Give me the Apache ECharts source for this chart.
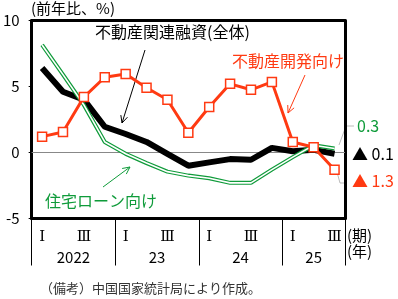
<!DOCTYPE html>
<html><head><meta charset="utf-8">
<script src="https://cdn.jsdelivr.net/npm/echarts@6/dist/echarts.min.js"></script>
<style>html,body{margin:0;padding:0;background:#fff}#c{width:398px;height:299px}</style>
</head><body><div id="c"></div>
<script>
const categories = ['2022Q1','2022Q2','2022Q3','2022Q4','2023Q1','2023Q2','2023Q3','2023Q4','2024Q1','2024Q2','2024Q3','2024Q4','2025Q1','2025Q2','2025Q3'];
const quarterLabels = ['Ⅰ','','Ⅲ','','Ⅰ','','Ⅲ','','Ⅰ','','Ⅲ','','Ⅰ','','Ⅲ'];
const yearLabels = ['2022','23','24','25'];
const yearCenters = [2, 6, 10, 13.5];
const totalLoans = [6.4, 4.6, 4.0, 1.95, 1.4, 0.8, -0.1, -1.0, -0.75, -0.5, -0.55, 0.35, 0.1, 0.2, -0.1];
const developmentLoans = [1.2, 1.55, 4.2, 5.7, 5.95, 4.9, 4.0, 1.5, 3.45, 5.2, 4.75, 5.35, 0.8, 0.4, -1.3];
const mortgageLoans = [8.15, 5.9, 3.6, 0.8, -0.1, -0.8, -1.45, -1.75, -1.95, -2.3, -2.3, -1.3, -0.35, 0.55, 0.3];
const yTicks = [-5, 0, 5, 10];

const FONT = '"Noto Sans CJK JP", "Noto Sans", sans-serif';
const SERIF = '"DejaVu Serif", "Liberation Serif", serif';
const RED = '#ff3a12';
const GREEN = '#0f9b3a';

function arrow(x1, y1, x2, y2, color) {
  const a = Math.atan2(y2 - y1, x2 - x1);
  const L = 8, W = 0.45;
  return {
    type: 'group', silent: true, z: 50,
    children: [
      { type: 'line', shape: { x1, y1, x2, y2 }, style: { stroke: color, lineWidth: 1 } },
      { type: 'polyline', shape: { points: [
          [x2 - L * Math.cos(a - W), y2 - L * Math.sin(a - W)], [x2, y2],
          [x2 - L * Math.cos(a + W), y2 - L * Math.sin(a + W)]] },
        style: { stroke: color, lineWidth: 1, fill: null } }
    ]
  };
}

const frameLine = { show: true, onZero: false, lineStyle: { color: '#000', width: 3 } };

const chart = echarts.init(document.getElementById('c'), null, { renderer: 'canvas' });
chart.setOption({
  animation: false,
  textStyle: { fontFamily: FONT },
  grid: { left: 29.5, top: 20.5, width: 315.5, height: 198, show: false, containLabel: false },
  xAxis: [{
    type: 'category', data: categories, boundaryGap: true, position: 'bottom',
    axisLine: frameLine,
    axisTick: { show: true, length: 47, lineStyle: { color: '#000', width: 1 },
      interval: function (i) { return i % 4 === 0; } },
    axisLabel: { show: true, interval: 0, margin: 11, fontSize: 15, color: '#000', fontFamily: SERIF,
      formatter: function (v, i) { return quarterLabels[i]; } }
  }, {
    type: 'value', min: 0, max: 15, interval: 0.5, position: 'bottom',
    axisLine: { show: false, onZero: false }, axisTick: { show: false }, splitLine: { show: false },
    axisLabel: { show: true, margin: 31, fontSize: 15, color: '#000', fontFamily: FONT, showMinLabel: true, showMaxLabel: true,
      formatter: function (v) { const k = yearCenters.indexOf(v); return k >= 0 ? yearLabels[k] : ''; } }
  }, {
    type: 'category', data: categories, position: 'top',
    axisLine: frameLine, axisTick: { show: false }, axisLabel: { show: false }, splitLine: { show: false }
  }],
  yAxis: [{
    type: 'value', min: yTicks[0], max: yTicks[yTicks.length - 1], interval: 5, position: 'left',
    axisLine: frameLine,
    axisTick: { show: true, length: 3, lineStyle: { color: '#000' } },
    splitLine: { show: false },
    axisLabel: { margin: 12, fontSize: 15, color: '#000', fontFamily: FONT }
  }, {
    type: 'value', min: yTicks[0], max: yTicks[yTicks.length - 1], interval: 5, position: 'right',
    axisLine: frameLine, axisTick: { show: false }, axisLabel: { show: false }, splitLine: { show: false }
  }],
  series: [{
    name: '不動産関連融資(全体)', type: 'line', data: totalLoans, symbol: 'none', z: 3,
    lineStyle: { color: '#000', width: 6 },
    markLine: { silent: true, symbol: 'none', label: { show: false }, data: [{ yAxis: 0 }],
      lineStyle: { color: '#888', width: 1.2, type: 'solid' }, z: 1 }
  }, {
    name: '住宅ローン向け', type: 'line', data: mortgageLoans, symbol: 'none', z: 4,
    lineStyle: { color: GREEN, width: 4 }
  }, {
    name: '住宅ローン向け_inner', type: 'line', data: mortgageLoans, symbol: 'none', z: 5,
    lineStyle: { color: '#fff', width: 1.6 }
  }, {
    name: '不動産開発向け', type: 'line', data: developmentLoans, z: 6,
    symbol: 'rect', symbolSize: 9, showAllSymbol: true,
    itemStyle: { color: '#fff', borderColor: RED, borderWidth: 1.5 },
    lineStyle: { color: RED, width: 3 }
  }],
  graphic: [
    { type: 'text', left: 31, top: 1, style: { text: '(前年比、%)', font: '15px ' + FONT, fill: '#000' } },
    { type: 'text', left: 95, top: 24, style: { text: '不動産関連融資(全体)', font: '16px ' + FONT, fill: '#000' } },
    { type: 'text', left: 232, top: 53, style: { text: '不動産開発向け', font: '16px ' + FONT, fill: RED } },
    { type: 'text', left: 45, top: 193, style: { text: '住宅ローン向け', font: '16px ' + FONT, fill: GREEN } },
    arrow(145, 50, 122, 123, '#000'),
    arrow(305, 75, 288, 113, RED),
    arrow(103, 187, 130, 167, GREEN),
    { type: 'polyline', silent: true, shape: { points: [[339, 145], [346, 126], [354, 126]] }, style: { stroke: '#bbb', lineWidth: 1, fill: null } },
    { type: 'polyline', silent: true, shape: { points: [[337, 172], [340, 183], [347, 183]] }, style: { stroke: '#bbb', lineWidth: 1, fill: null } },
    { type: 'text', left: 357, top: 118, style: { text: '0.3', font: '16px ' + FONT, fill: GREEN } },
    { type: 'text', left: 352, top: 146, style: { text: '▲ 0.1', font: '16px ' + FONT, fill: '#000' } },
    { type: 'text', left: 352, top: 173, style: { text: '▲ 1.3', font: '16px ' + FONT, fill: RED } },
    { type: 'text', left: 347, top: 228, style: { text: '(期)', font: '15px ' + FONT, fill: '#000' } },
    { type: 'text', left: 347, top: 244, style: { text: '(年)', font: '15px ' + FONT, fill: '#000' } },
    { type: 'text', left: 40, top: 282, style: { text: '（備考）中国国家統計局により作成。', font: '13px ' + FONT, fill: '#333' } }
  ]
});
</script></body></html>
